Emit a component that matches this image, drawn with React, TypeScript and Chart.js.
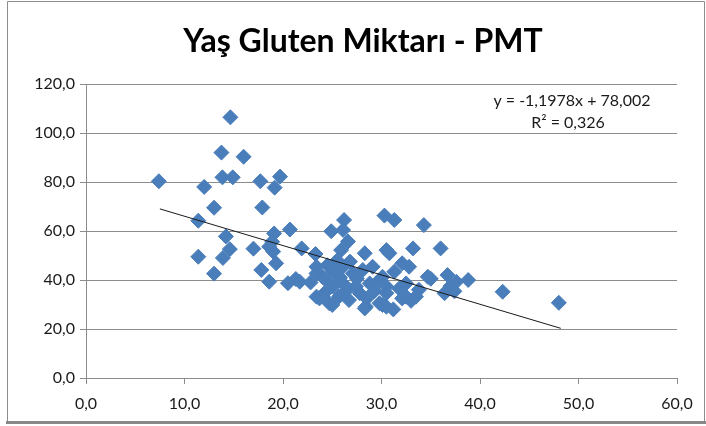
import React, { useEffect, useRef } from 'react';
import { Chart, registerables } from 'chart.js';

Chart.register(...registerables);

const chartTitle = 'Yaş Gluten Miktarı - PMT';
const equationLines = ['y = -1,1978x + 78,002', 'R² = 0,326'];

const xValues = [
  7.4, 11.4, 11.4, 12.0, 13.0, 13.0, 13.75, 13.85, 14.2, 14.6,
  13.9, 14.66, 14.9, 16.0, 17.7, 17.9, 17.8, 18.6, 19.15, 19.7,
  19.1, 18.6, 19.0, 19.3, 17.0, 18.9, 20.7, 20.5, 21.3, 21.9,
  23.3, 23.4, 23.4, 21.7, 26.2, 26.1, 24.9, 26.6, 28.3, 25.9,
  30.3, 30.5, 23.4, 24.0, 25.1, 26.1, 27.1, 28.1, 29.1, 29.8,
  28.8, 27.4, 26.1, 25.1, 23.7, 24.7, 25.7, 26.7, 28.4, 29.8,
  30.5, 27.8, 31.3, 34.3, 36.0, 33.2, 30.8, 32.1, 32.8, 34.7,
  36.7, 37.6, 38.8, 36.4, 37.4, 30.5, 32.5, 33.5, 32.5, 30.5,
  30.1, 31.3, 42.3, 48.0, 24.5, 25.5, 26.8, 27.5, 25.8, 24.3,
  26.4, 25.0, 31.2, 33.0, 35.0, 37.0, 29.3, 28.5, 31.8, 33.8,
  22.8, 28.3, 30.1, 32.1, 24.6,
];

const yValues = [
  80.3, 64.2, 49.5, 78.0, 69.5, 42.6, 92.0, 81.9, 57.8, 52.6,
  49.0, 106.4, 81.9, 90.3, 80.3, 69.6, 44.1, 39.3, 77.7, 82.2,
  59.0, 53.6, 51.6, 46.8, 52.8, 55.6, 60.6, 38.7, 40.4, 52.9,
  50.6, 42.7, 33.2, 39.3, 64.5, 60.4, 59.9, 55.7, 50.9, 52.2,
  66.3, 52.2, 45.4, 41.3, 43.4, 45.4, 42.7, 44.1, 45.4, 40.0,
  38.6, 37.3, 38.6, 37.3, 32.5, 30.5, 33.3, 31.8, 29.1, 30.5,
  34.6, 34.6, 64.5, 62.4, 52.9, 52.9, 50.9, 46.8, 45.4, 41.3,
  42.0, 39.3, 40.0, 34.6, 35.4, 29.1, 33.2, 33.2, 38.6, 37.3,
  41.3, 43.4, 35.2, 30.7, 46.0, 48.0, 47.5, 40.5, 41.0, 35.0,
  35.5, 29.8, 28.0, 31.5, 40.5, 37.5, 35.5, 32.5, 36.5, 36.0,
  39.0, 28.4, 29.8, 32.5, 39.0,
];

const trendSlope = -1.1978;
const trendIntercept = 78.002;
const trendXRange = [7.5, 48.2];

const xAxisMin = 0;
const xAxisMax = 60;
const xAxisStep = 10;
const yAxisMin = 0;
const yAxisMax = 120;
const yAxisStep = 20;

const FONT = 'Lato, "Open Sans", "Liberation Sans", sans-serif';
const fmt = (v: number) => v.toFixed(1).replace('.', ',');

const framePlugin = {
  id: 'frame',
  beforeDraw(chart: any) {
    const ctx = chart.ctx;
    ctx.save();
    ctx.fillStyle = '#ffffff';
    ctx.fillRect(0, 0, chart.width, chart.height);
    ctx.strokeStyle = '#8c8c8c';
    ctx.lineWidth = 1;
    ctx.beginPath();
    ctx.moveTo(7.5, 1.5);
    ctx.lineTo(chart.width - 1.5, 1.5);
    ctx.lineTo(chart.width - 1.5, chart.height - 4);
    ctx.moveTo(7.5, 1.5);
    ctx.lineTo(7.5, chart.height - 4);
    ctx.stroke();
    ctx.lineWidth = 3;
    ctx.strokeStyle = '#888888';
    ctx.beginPath();
    ctx.moveTo(6, chart.height - 3.5);
    ctx.lineTo(chart.width, chart.height - 3.5);
    ctx.stroke();
    ctx.restore();
  },
};

const textPlugin = {
  id: 'texts',
  afterDraw(chart: any) {
    const ctx = chart.ctx;
    const area = chart.chartArea;
    ctx.save();
    ctx.fillStyle = '#000000';
    ctx.textAlign = 'center';
    ctx.textBaseline = 'middle';
    ctx.font = `bold 32px ${FONT}`;
    ctx.fillText(chartTitle, 363, 42);
    ctx.font = `16px ${FONT}`;
    ctx.fillStyle = '#1a1a1a';
    ctx.fillText(equationLines[0], area.right - 105, area.top + 17);
    ctx.fillText(equationLines[1], area.right - 109, area.top + 39);
    ctx.restore();
  },
};

export default function App() {
  const canvasRef = useRef<HTMLCanvasElement | null>(null);

  useEffect(() => {
    if (!canvasRef.current) return;
    const points = xValues.map((x, i) => ({ x, y: yValues[i] }));
    const trend = trendXRange.map((x) => ({ x, y: trendSlope * x + trendIntercept }));

    const chart = new Chart(canvasRef.current, {
      type: 'scatter',
      data: {
        datasets: [
          {
            label: 'Trend',
            data: trend,
            showLine: true,
            borderColor: '#1a1a1a',
            borderWidth: 1,
            pointRadius: 0,
            fill: false,
          } as any,
          {
            label: 'PMT',
            data: points,
            pointStyle: 'rectRot',
            pointRadius: 7.5,
            pointBackgroundColor: '#4A7EBB',
            pointBorderColor: '#4A7EBB',
            pointBorderWidth: 1,
          } as any,
        ],
      },
      options: {
        animation: false,
        responsive: false,
        maintainAspectRatio: false,
        layout: { padding: { left: 8, right: 29, top: 84, bottom: 4 } },
        plugins: {
          legend: { display: false },
          tooltip: { enabled: false },
          title: { display: false },
        },
        scales: {
          x: {
            type: 'linear',
            min: xAxisMin,
            max: xAxisMax,
            afterFit(scale: any) {
              scale.height = 44;
            },
            ticks: {
              stepSize: xAxisStep,
              callback: (v: any) => fmt(Number(v)),
              color: '#1a1a1a',
              font: { family: FONT, size: 16 },
              padding: 10,
              maxRotation: 0,
            },
            grid: {
              drawOnChartArea: false,
              color: '#8c8c8c',
              tickLength: 6,
            },
            border: { color: '#8c8c8c' },
          },
          y: {
            type: 'linear',
            min: yAxisMin,
            max: yAxisMax,
            afterFit(scale: any) {
              scale.width = 78;
            },
            ticks: {
              stepSize: yAxisStep,
              callback: (v: any) => fmt(Number(v)),
              color: '#1a1a1a',
              font: { family: FONT, size: 16 },
              padding: 5,
            },
            grid: {
              color: '#8c8c8c',
              tickLength: 6,
            },
            border: { color: '#8c8c8c' },
          },
        },
      },
      plugins: [framePlugin, textPlugin],
    });
    return () => chart.destroy();
  }, []);

  return (
    <div style={{ position: 'absolute', left: 0, top: 0, width: 706, height: 426 }}>
      <canvas ref={canvasRef} width={706} height={426} style={{ width: 706, height: 426 }} />
    </div>
  );
}
